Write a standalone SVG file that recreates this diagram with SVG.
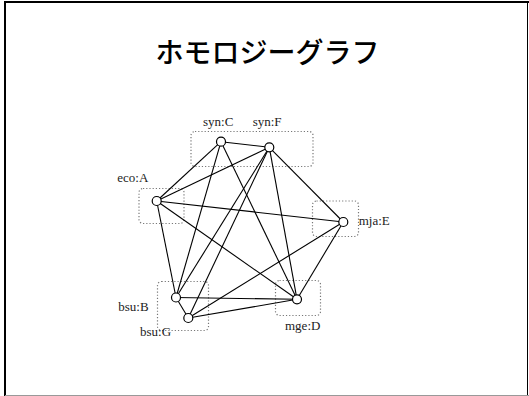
<svg xmlns="http://www.w3.org/2000/svg" width="529" height="396" viewBox="0 0 529 396">
<style>
.frame{stroke:#000;stroke-width:2;fill:none}
.cluster{fill:none;stroke:#777;stroke-width:1.2;stroke-dasharray:1.2 2}
.edge{stroke:#000;stroke-width:1.1;fill:none}
.node{fill:#fff;stroke:#000;stroke-width:1.2}
.lbl{font-family:"Liberation Serif","Times New Roman",serif;font-size:13px;fill:#222}
.title{font-family:"Noto Sans CJK JP","Noto Sans CJK SC",sans-serif;font-size:28px;font-weight:500;fill:#000;text-anchor:middle}
</style>
<rect width="529" height="396" fill="#fff"/>
<line class="frame" x1="4" y1="2" x2="529" y2="2"/>
<line class="frame" x1="5" y1="2" x2="5" y2="396"/>
<line x1="527.5" y1="2" x2="527.5" y2="396" stroke="#000" stroke-width="1"/>
<line x1="5" y1="395.5" x2="529" y2="395.5" stroke="#999" stroke-width="1"/>
<text class="title" x="267.5" y="63">ホモロジーグラフ</text>
<g id="clusters">
<rect class="cluster" x="191" y="131.5" width="122" height="35" rx="4"/>
<rect class="cluster" x="139" y="188.5" width="45" height="35" rx="4"/>
<rect class="cluster" x="312.5" y="201" width="46" height="35.5" rx="4"/>
<rect class="cluster" x="157.5" y="281.5" width="51" height="49" rx="4"/>
<rect class="cluster" x="275.5" y="280.5" width="45" height="35" rx="4"/>
</g>
<g id="connectors">
<line class="edge" x1="221" y1="141.7" x2="269.3" y2="147.3"/>
<line class="edge" x1="221" y1="141.7" x2="156.7" y2="201"/>
<line class="edge" x1="221" y1="141.7" x2="176" y2="297.5"/>
<line class="edge" x1="221" y1="141.7" x2="297" y2="299.3"/>
<line class="edge" x1="269.3" y1="147.3" x2="156.7" y2="201"/>
<line class="edge" x1="269.3" y1="147.3" x2="343.3" y2="222"/>
<line class="edge" x1="269.3" y1="147.3" x2="176" y2="297.5"/>
<line class="edge" x1="269.3" y1="147.3" x2="188.3" y2="318"/>
<line class="edge" x1="269.3" y1="147.3" x2="297" y2="299.3"/>
<line class="edge" x1="156.7" y1="201" x2="343.3" y2="222"/>
<line class="edge" x1="156.7" y1="201" x2="176" y2="297.5"/>
<line class="edge" x1="156.7" y1="201" x2="297" y2="299.3"/>
<line class="edge" x1="343.3" y1="222" x2="297" y2="299.3"/>
<line class="edge" x1="343.3" y1="222" x2="188.3" y2="318"/>
<line class="edge" x1="176" y1="297.5" x2="188.3" y2="318"/>
<line class="edge" x1="176" y1="297.5" x2="297" y2="299.3"/>
<line class="edge" x1="188.3" y1="318" x2="297" y2="299.3"/>
</g>
<g id="syn-C"><circle class="node" cx="221" cy="141.7" r="4.5"/><text class="lbl" x="203" y="126">syn:C</text></g>
<g id="syn-F"><circle class="node" cx="269.3" cy="147.3" r="4.5"/><text class="lbl" x="252.7" y="126">syn:F</text></g>
<g id="eco-A"><circle class="node" cx="156.7" cy="201" r="4.5"/><text class="lbl" x="117.3" y="182">eco:A</text></g>
<g id="mja-E"><circle class="node" cx="343.3" cy="222" r="4.5"/><text class="lbl" x="358.7" y="225">mja:E</text></g>
<g id="bsu-B"><circle class="node" cx="176" cy="297.5" r="4.5"/><text class="lbl" x="118.3" y="310.7">bsu:B</text></g>
<g id="bsu-G"><circle class="node" cx="188.3" cy="318" r="4.5"/><text class="lbl" x="140" y="335.7">bsu:G</text></g>
<g id="mge-D"><circle class="node" cx="297" cy="299.3" r="4.5"/><text class="lbl" x="285" y="330">mge:D</text></g>
</svg>
